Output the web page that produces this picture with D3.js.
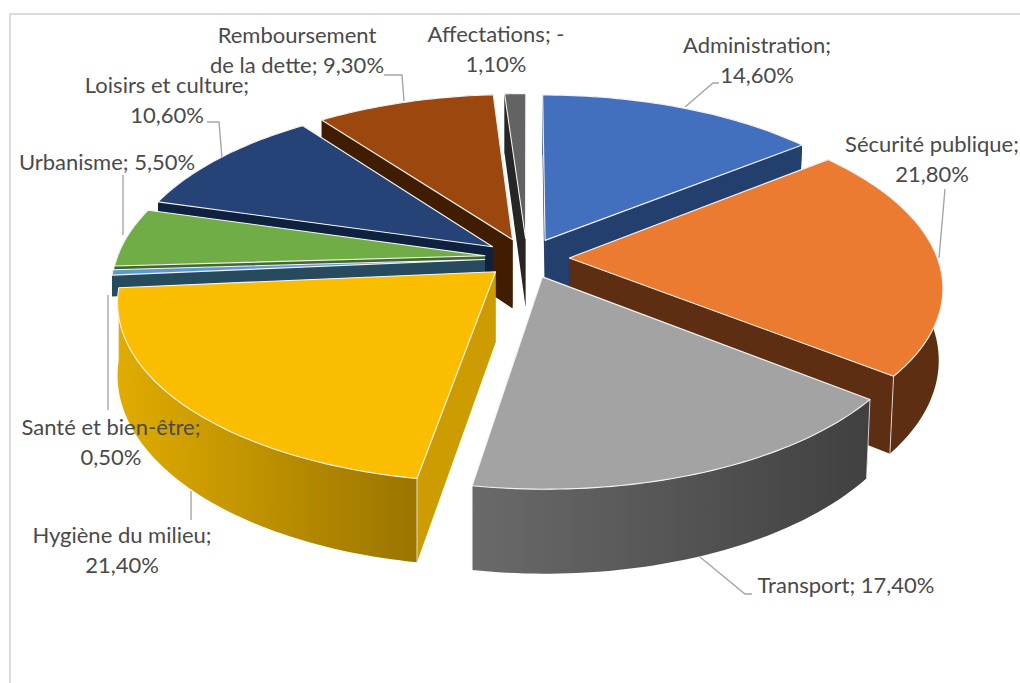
<!DOCTYPE html>
<html lang="fr">
<head>
<meta charset="utf-8">
<title>Dépenses</title>
<script src="https://cdn.jsdelivr.net/npm/d3@7"></script>
<style>
  html, body { margin: 0; padding: 0; background: #fff; }
  svg { display: block; }
  text { font-family: Lato, "Open Sans", sans-serif; font-size: 22px; fill: #4a4a4a; text-anchor: middle; }
</style>
</head>
<body>
<div id="chart"></div>
<script>
/************
*** DATA ***
************/

const categories = ["Administration", "Sécurité publique", "Transport", "Hygiène du milieu",
  "Santé et bien-être", "Urbanisme", "Loisirs et culture", "Remboursement de la dette", "Affectations"];
const shares = [14.6, 21.8, 17.4, 21.4, 0.5, 5.5, 10.6, 9.3, 1.1];
const shareLabels = [
  ["Administration;", "14,60%"],
  ["Sécurité publique;", "21,80%"],
  ["Transport; 17,40%"],
  ["Hygiène du milieu;", "21,40%"],
  ["Santé et bien-être;", "0,50%"],
  ["Urbanisme; 5,50%"],
  ["Loisirs et culture;", "10,60%"],
  ["Remboursement", "de la dette; 9,30%"],
  ["Affectations; -", "1,10%"]
];

/**************
*** STYLES ***
**************/

const topCols = ["#4270BE", "#EB7B31", "#A3A3A3", "#FBBD00", "#5B9BD5", "#70AD47", "#254377", "#9C470D", "#636363"];
const wallCols = ["#223F6E", "#5E2E12", "#454545", "#CC9C00", "#264A5E", "#43682B", "#0E2240", "#401D00", "#262626"];
// rims that show in front get a left to right shading
const rimShades = { 2: ["#6A6A6A", "#404040"], 3: ["#E0AC00", "#9A7400"] };

/**************
*** LAYOUT ***
**************/

const width = 1020, height = 683;
const cx = 527, cy = 258;   // pie centre on screen
const R = 368;              // horizontal radius
const squash = 0.47;        // tilt
const persp = 0.155;        // front is bigger than back
const thick = 70;           // wall height
const explode = 0.115;      // gap of each slice, in radii
const lineGap = 29.5;

// these two only show a short bit of wall behind their big neighbour
const wallScale = { 4: 0.3, 5: 0.3 };

// anchor of each label (centre x, first baseline) and its leader line
const labelPos = [[757, 53], [932, 152], [846, 593], [122, 543], [111, 435], [107, 170], [167, 93], [297, 43], [496, 42]];
const leaders = [
  [[685, 107], [713, 83], [719, 83]],
  [[939, 258], [945, 189]],
  [[700, 557], [745, 594], [752, 594]],
  [[191, 491], [191, 520]],
  [[108, 295], [108, 410]],
  [[123, 235], [123, 175]],
  [[207, 122], [219, 122], [222, 158]],
  [[384, 75], [402, 75], [404, 101]]
];

/**************
*** PROJECT ***
**************/

// ground plane point (x right, z to the viewer) to the screen, low = 0 is the top face
function project(x, z, low) {
  const p = 1 / (1 - persp * z);
  const sx = R * x * p, sy = R * squash * z * p;
  if (low) return [cx + (sx > 0 ? sx * 0.99 : sx), cy + sy + thick * low * p];
  return [cx + sx, cy + sy];
}

function rimPoints(s, low) {
  const n = Math.max(2, Math.ceil((s.endAngle - s.startAngle) / 0.02));
  const pts = d3.range(n + 1).map(i => {
    const a = s.startAngle + (s.endAngle - s.startAngle) * i / n;
    return project(Math.sin(a) + s.ox, -Math.cos(a) + s.oz, low);
  });
  return pts;
}

/************
*** DRAW ***
************/

const svg = d3.select("#chart").append("svg").attr("width", width).attr("height", height);
const defs = svg.append("defs");
const line = d3.line();

svg.append("path")
  .attr("d", line([[10, height], [10, 14], [width, 14]]))
  .attr("fill", "none").attr("stroke", "#dcdcdc").attr("stroke-width", 2);

const slices = d3.pie().sort(null).value(d => d)(shares).map((s, i) => {
  const mid = (s.startAngle + s.endAngle) / 2;
  s.i = i;
  s.ox = explode * Math.sin(mid);
  s.oz = -explode * Math.cos(mid);
  s.depth = -Math.cos(mid);
  return s;
});

const edge = { stroke: "#f4f4f4", w: 1.1 };

// back slices first
slices.slice().sort((a, b) => a.depth - b.depth).forEach(s => {
  const g = svg.append("g").attr("class", "slice").attr("data-name", categories[s.i]);
  const low = wallScale[s.i] || 1;
  const topRim = rimPoints(s, 0), lowRim = rimPoints(s, low);
  const apex = project(s.ox, s.oz, 0), apexLow = project(s.ox, s.oz, low);

  // outer wall
  let rimFill = wallCols[s.i];
  if (rimShades[s.i]) {
    const xs = topRim.map(p => p[0]);
    const grad = defs.append("linearGradient").attr("id", "rim" + s.i)
      .attr("gradientUnits", "userSpaceOnUse")
      .attr("x1", d3.min(xs)).attr("x2", d3.max(xs)).attr("y1", 0).attr("y2", 0);
    grad.append("stop").attr("offset", 0).attr("stop-color", rimShades[s.i][0]);
    grad.append("stop").attr("offset", 1).attr("stop-color", rimShades[s.i][1]);
    rimFill = "url(#rim" + s.i + ")";
  }

  // the two cut faces
  const first = topRim[0], last = topRim[topRim.length - 1];
  const firstLow = lowRim[0], lastLow = lowRim[lowRim.length - 1];
  [[apex, first, firstLow, apexLow], [apex, last, lastLow, apexLow]].forEach(q => {
    g.append("path").attr("d", line(q) + "Z")
      .attr("fill", wallCols[s.i]);
  });

  g.append("path")
    .attr("d", line(topRim.concat(lowRim.slice().reverse())) + "Z")
    .attr("fill", rimFill);

  // edge of the wall at each rim corner, only the ones facing us
  [[first, firstLow], [last, lastLow]].forEach(c => {
    if (c[0][1] < cy + 60) return;
    g.append("path").attr("d", line(c))
      .attr("stroke", edge.stroke).attr("stroke-width", 0.8).attr("fill", "none");
  });

  // top face
  g.append("path")
    .attr("d", line([apex].concat(topRim)) + "Z")
    .attr("fill", topCols[s.i])
    .attr("stroke", edge.stroke).attr("stroke-width", edge.w).attr("stroke-linejoin", "round");
});

/*************
*** LABELS ***
*************/

svg.append("g").selectAll("path").data(leaders).join("path")
  .attr("d", d => line(d))
  .attr("fill", "none").attr("stroke", "#a6a6a6").attr("stroke-width", 1.4);

const labels = svg.append("g").selectAll("text").data(shareLabels).join("text")
  .attr("x", (d, i) => labelPos[i][0])
  .attr("y", (d, i) => labelPos[i][1]);
labels.selectAll("tspan").data(d => d).join("tspan")
  .attr("x", function() { return this.parentNode.getAttribute("x"); })
  .attr("dy", (d, i) => i ? lineGap : 0)
  .text(d => d);
</script>
</body>
</html>
